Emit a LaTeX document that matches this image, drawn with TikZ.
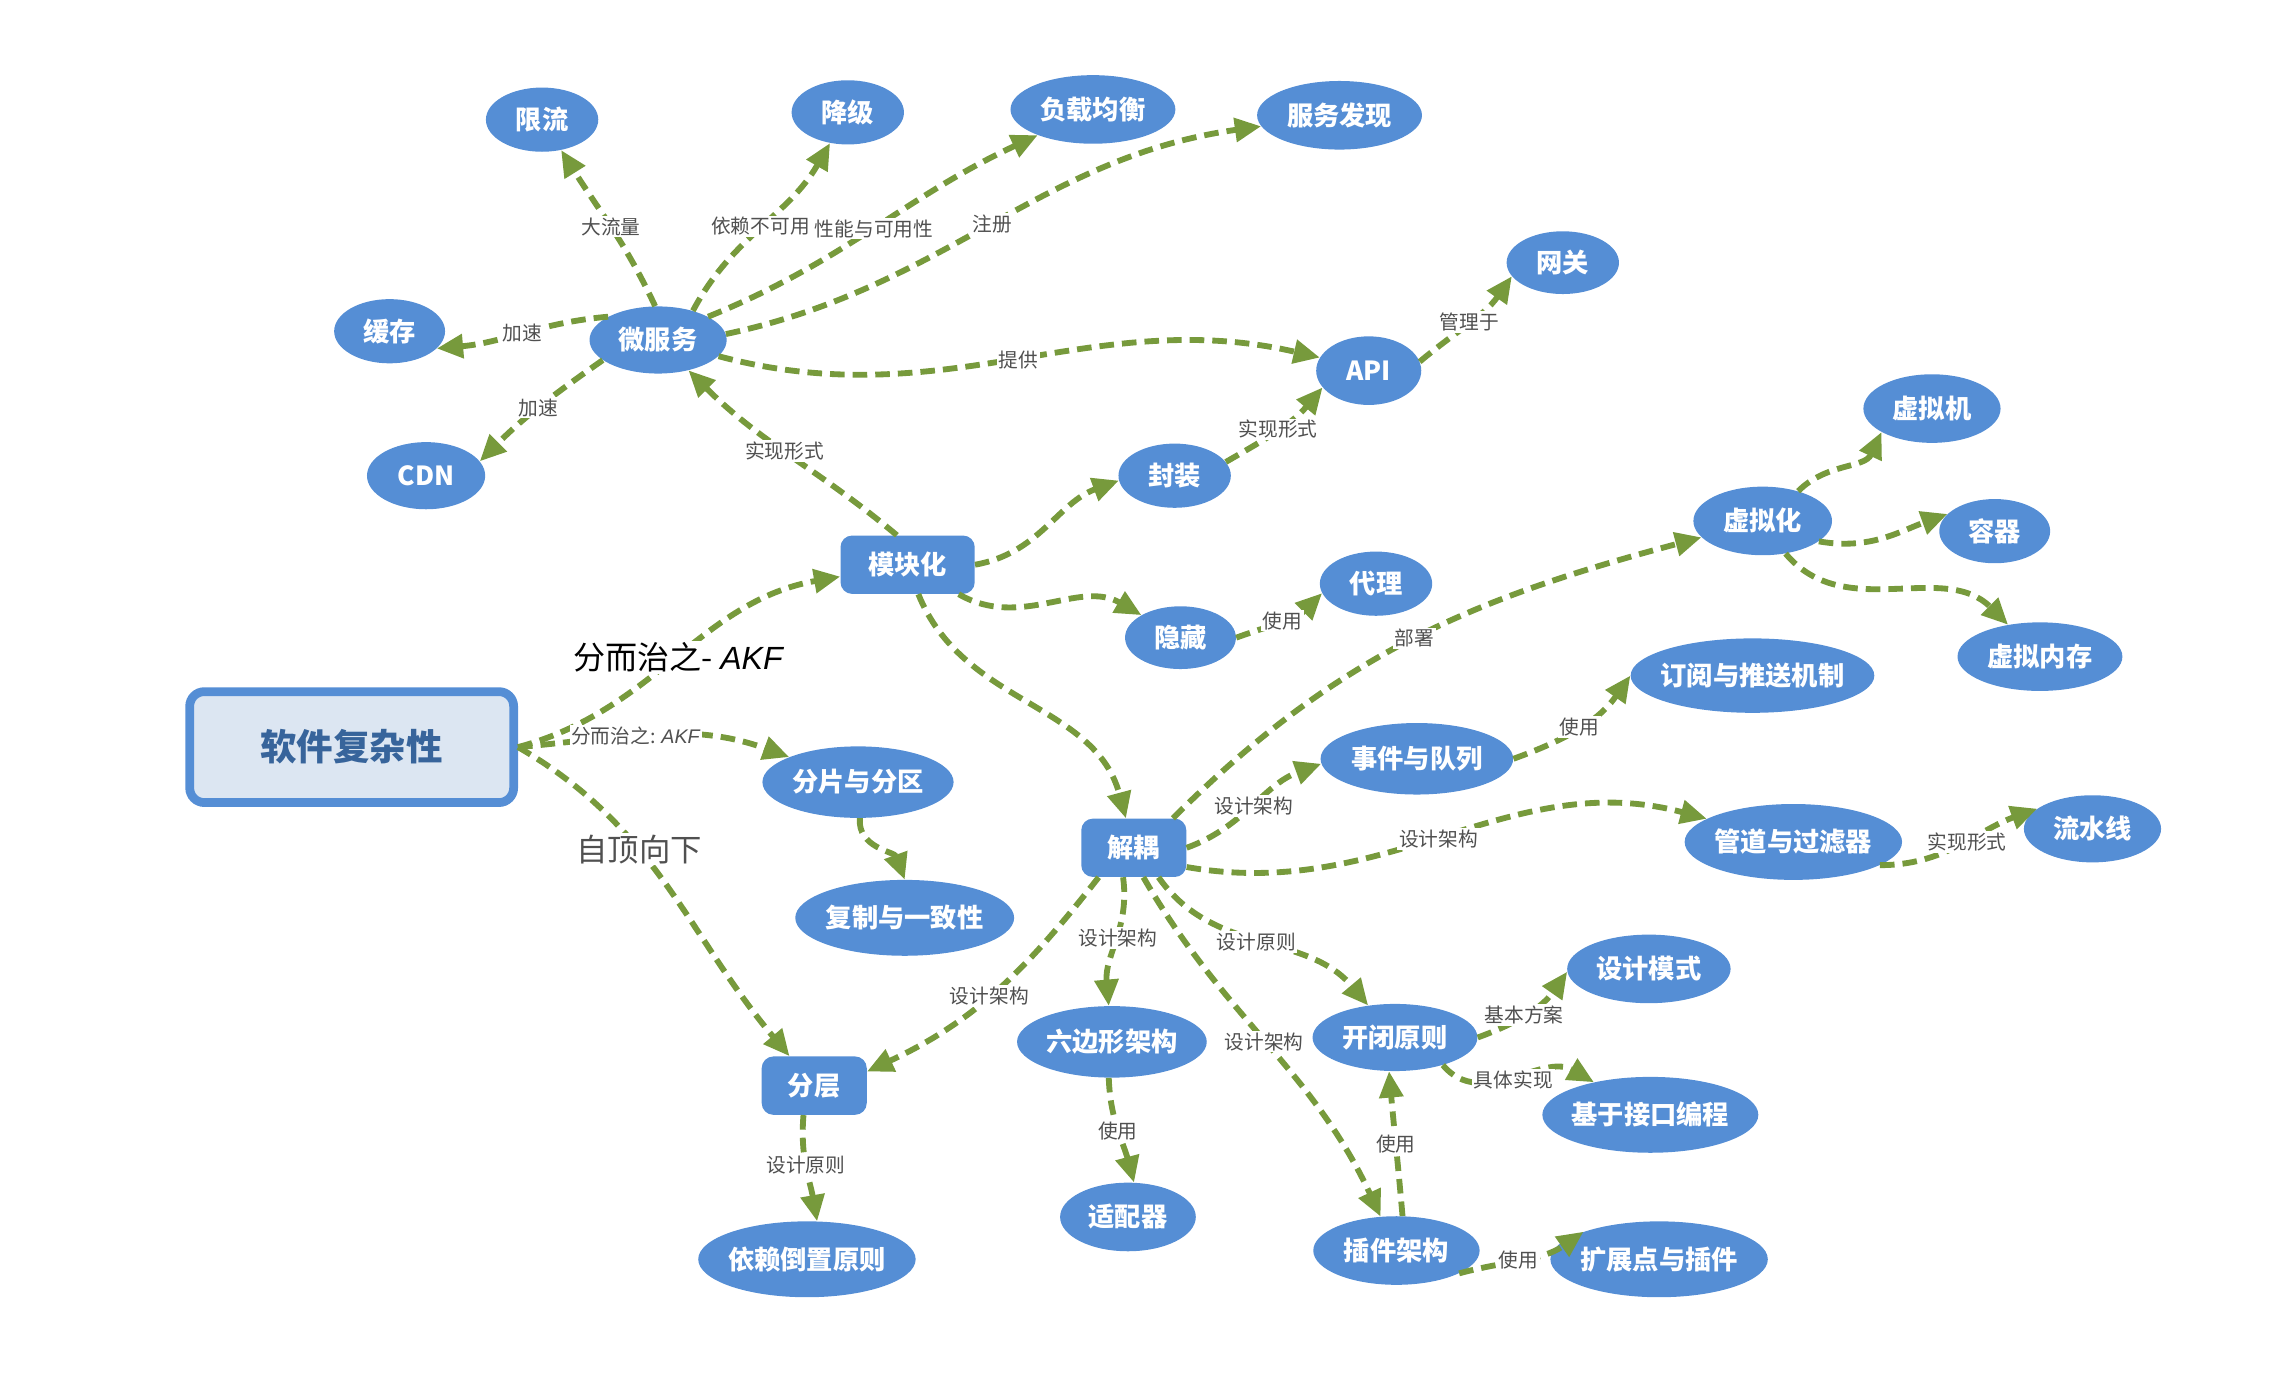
\documentclass[tikz,border=0pt]{standalone}
\usepackage{fontspec}
\setmainfont{Noto Sans CJK SC}
\newfontfamily\latinit{Liberation Sans}
\usetikzlibrary{shapes.geometric,arrows.meta}
\definecolor{nblue}{HTML}{558ED5}
\definecolor{grn}{HTML}{779A3C}
\definecolor{rootfill}{HTML}{DCE6F2}
\definecolor{roottext}{HTML}{37649B}
\definecolor{lblgray}{HTML}{505050}
\newcommand\nb[1]{\makebox[0pt]{#1}}
\newcommand\myakf{{\latinit\itshape AKF}}
\begin{document}
\begin{tikzpicture}[x=1pt,y=-1pt,
 ell/.style={ellipse, fill=nblue, inner sep=0pt, text=white, font=\fontsize{18}{20}\selectfont\bfseries},
 rbox/.style={rectangle, rounded corners=8pt, fill=nblue, inner sep=0pt, text=white, font=\fontsize{18}{20}\selectfont\bfseries},
 lnk/.style={draw=grn, line width=4pt, dash pattern=on 10pt off 5.5pt, -{Triangle[length=18pt,width=16pt]}},
 lbl/.style={fill=white, inner sep=1.2pt, text=lblgray, font=\fontsize{13.5}{15}\selectfont},
 biglbl/.style={fill=white, inner sep=1pt, text=black, font=\fontsize{22}{24}\selectfont},
 toplbl/.style={fill=white, inner sep=1pt, text=lblgray, font=\fontsize{21.5}{24}\selectfont},
]
\useasboundingbox (0,0) rectangle (1568,947);

% root
\node[draw=nblue, line width=6pt, fill=rootfill, rounded corners=10pt, minimum width=222pt, minimum height=76pt, inner sep=0pt, text=roottext, font=\fontsize{25}{28}\selectfont\bfseries] (root) at (241,512) {软件复杂性};

% nodes
\node[ell, minimum width=77pt, minimum height=44pt] (xl) at (371.5,82) {\nb{限流}};
\node[ell, minimum width=77pt, minimum height=44pt] (jj) at (581,77) {\nb{降级}};
\node[ell, minimum width=113pt, minimum height=47pt] (fzjh) at (749,75) {\nb{负载均衡}};
\node[ell, minimum width=113pt, minimum height=47pt] (fwfx) at (918,79) {\nb{服务发现}};
\node[ell, minimum width=77pt, minimum height=43pt] (wg) at (1071,180) {\nb{网关}};
\node[ell, minimum width=76pt, minimum height=44pt] (hc) at (267,227) {\nb{缓存}};
\node[ell, minimum width=94pt, minimum height=46pt] (ws) at (451,233) {\nb{微服务}};
\node[ell, minimum width=81pt, minimum height=46pt] (cdn) at (292,326) {\nb{CDN}};
\node[ell, minimum width=72pt, minimum height=47pt] (api) at (938,254) {\nb{API}};
\node[ell, minimum width=77pt, minimum height=44pt] (fz) at (805,326) {\nb{封装}};
\node[rbox, minimum width=92pt, minimum height=40pt] (mk) at (622,387) {模块化};
\node[ell, minimum width=76pt, minimum height=43pt] (yc) at (809,437) {\nb{隐藏}};
\node[ell, minimum width=77pt, minimum height=44pt] (dl) at (943,400) {\nb{代理}};
\node[ell, minimum width=94pt, minimum height=47pt] (vm) at (1324,280) {\nb{虚拟机}};
\node[ell, minimum width=95pt, minimum height=47pt] (vz) at (1208,357) {\nb{虚拟化}};
\node[ell, minimum width=76pt, minimum height=44pt] (rq) at (1367,364) {\nb{容器}};
\node[ell, minimum width=113pt, minimum height=47pt] (vmem) at (1398,450) {\nb{虚拟内存}};
\node[ell, minimum width=167pt, minimum height=51pt] (dy) at (1201,463) {\nb{订阅与推送机制}};
\node[ell, minimum width=132pt, minimum height=49pt] (sj) at (971,520) {\nb{事件与队列}};
\node[ell, minimum width=131pt, minimum height=49pt] (fp) at (588,536) {\nb{分片与分区}};
\node[rbox, minimum width=72pt, minimum height=40pt] (jo) at (777,581) {解耦};
\node[ell, minimum width=149pt, minimum height=52pt] (gd) at (1229,577) {\nb{管道与过滤器}};
\node[ell, minimum width=94pt, minimum height=46pt] (lsx) at (1434,568) {\nb{流水线}};
\node[ell, minimum width=150pt, minimum height=52pt] (fzyz) at (620,629) {\nb{复制与一致性}};
\node[ell, minimum width=112pt, minimum height=47pt] (sjms) at (1130,664) {\nb{设计模式}};
\node[ell, minimum width=113pt, minimum height=46pt] (kb) at (956,711) {\nb{开闭原则}};
\node[ell, minimum width=130pt, minimum height=49pt] (hex) at (762,714) {\nb{六边形架构}};
\node[rbox, minimum width=72pt, minimum height=40pt] (fc) at (558,744) {分层};
\node[ell, minimum width=148pt, minimum height=52pt] (jk) at (1131,764) {\nb{基于接口编程}};
\node[ell, minimum width=93pt, minimum height=47pt] (spq) at (773,834) {\nb{适配器}};
\node[ell, minimum width=114pt, minimum height=47pt] (cj) at (957,857) {\nb{插件架构}};
\node[ell, minimum width=149pt, minimum height=52pt] (kz) at (1137,863) {\nb{扩展点与插件}};
\node[ell, minimum width=149pt, minimum height=52pt] (yl) at (553,863) {\nb{依赖倒置原则}};

% connectors
\draw[lnk] (ws.95) to[out=115,in=-58] node[lbl,pos=0.5]{大流量} (xl);
\draw[lnk] (ws.40) to[out=62,in=-120] node[lbl,pos=0.5]{依赖不可用} (jj);
\draw[lnk] (ws.25) to[out=22,in=205] node[lbl,pos=0.5]{性能与可用性} (fzjh);
\draw[lnk] (ws.5) to[out=12,in=188] node[lbl,pos=0.5]{注册} (fwfx);
\draw[lnk] (ws.155) to[out=185,in=5] node[lbl,pos=0.5]{加速} (hc.-20);
\draw[lnk] (ws.200) to[out=215,in=45] node[lbl,pos=0.5]{加速} (cdn.15);
\draw[lnk] (ws.-15) to[out=-15,in=167] node[lbl,pos=0.5]{提供} (api.165);
\draw[lnk] (api.10) to[out=40,in=-125] node[lbl,pos=0.5]{管理于} (wg.195);
\draw[lnk] (mk.110) to[out=140,in=-45] node[lbl,pos=0.53]{实现形式} (ws);
\draw[lnk] (mk.east) to[out=10,in=200] (fz.185);
\draw[lnk] (fz.15) to[out=30,in=-130] node[lbl,pos=0.5]{实现形式} (api.200);
\draw[lnk] (mk.-30) to[out=-30,in=150] (yc);
\draw[lnk] (yc.east) to[out=20,in=-135] node[lbl,pos=0.5]{使用} (dl.190);
\draw[lnk] (mk.-70) to[out=-68,in=105] (jo);
\draw[lnk] (root.east) to[out=15,in=190] node[biglbl,pos=0.5]{分而治之- \myakf} (mk);
\draw[lnk] (root.east) to[out=5,in=160] node[lbl,pos=0.42]{分而治之: \myakf} (fp);
\draw[lnk] (root.east) to[out=-30,in=130] node[toplbl,pos=0.38]{自顶向下} (fc);
\draw[lnk] (fp.-87) to[out=-95,in=110] (fzyz.90);
\draw[lnk] (jo.37) to[out=45,in=195] node[lbl,pos=0.5]{部署} (vz);
\draw[lnk] (vz.40) to[out=45,in=-115] (vm.205);
\draw[lnk] (vz.-20) to[out=-10,in=200] (rq.160);
\draw[lnk] (vz.-55) to[out=-50,in=135] (vmem);
\draw[lnk] (jo.east) to[out=20,in=200] node[lbl,pos=0.5]{设计架构} (sj.183);
\draw[lnk] (sj.east) to[out=20,in=-125] node[lbl,pos=0.5]{使用} (dy.180);
\draw[lnk] (jo.-20) to[out=-10,in=165] node[lbl,pos=0.48]{设计架构} (gd);
\draw[lnk] (gd.-15) to[out=0,in=200] node[lbl,pos=0.55]{实现形式} (lsx.160);
\draw[lnk] (jo.-140) to[out=232,in=25] node[lbl,pos=0.53]{设计架构} (fc.15);
\draw[lnk] (jo.-110) to[out=-82,in=95] node[lbl,pos=0.47]{设计架构} (hex);
\draw[lnk] (jo.-50) to[out=-55,in=130] node[lbl,pos=0.48]{设计原则} (kb);
\draw[lnk] (jo.-72) to[out=-60,in=115] node[lbl,pos=0.49]{设计架构} (cj);
\draw[lnk] (kb.east) to[out=20,in=-125] node[lbl,pos=0.45]{基本方案} (sjms.182);
\draw[lnk] (kb.-30) to[out=-50,in=150] node[lbl,pos=0.5]{具体实现} (jk);
\draw[lnk] (cj.80) to[out=95,in=-85] node[lbl,pos=0.5]{使用} (kb.-100);
\draw[lnk] (cj.-20) to[out=15,in=215] node[lbl,pos=0.45]{使用} (kz.160);
\draw[lnk] (hex.-95) to[out=-88,in=105] node[lbl,pos=0.5]{使用} (spq.80);
\draw[lnk] (fc.-110) to[out=-95,in=100] node[lbl,pos=0.47]{设计原则} (yl.75);
\end{tikzpicture}
\end{document}
